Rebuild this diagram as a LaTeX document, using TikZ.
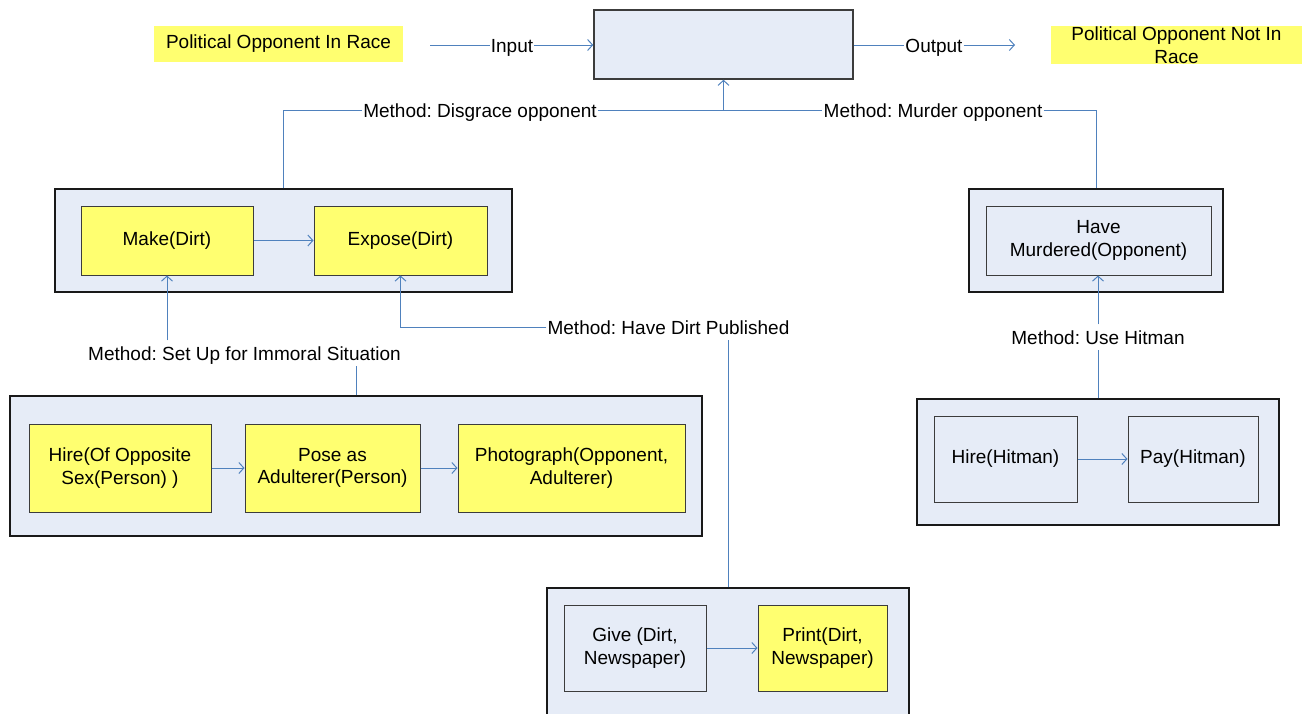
\documentclass[tikz,border=0pt]{standalone}
\usepackage{fontspec}
\setmainfont{Liberation Sans}
\frenchspacing
\usetikzlibrary{arrows.meta}
\definecolor{boxfill}{RGB}{230,236,247}
\definecolor{hl}{RGB}{255,255,112}
\definecolor{wire}{RGB}{79,129,189}
\definecolor{edge}{RGB}{60,60,60}
\begin{document}
\begin{tikzpicture}[x=1pt,y=-1pt,
  every node/.style={font=\fontsize{19}{22.5}\selectfont\frenchspacing, align=center, text=black},
  sized/.style 2 args={minimum width=#1, minimum height=#2, inner sep=0pt},
  group/.style={draw=black!90, line width=1.1pt, fill=boxfill},
  mainbox/.style={draw=edge, line width=1.5pt, fill=boxfill},
  act/.style={draw=edge, line width=1pt, fill=hl},
  plain/.style={draw=edge, line width=1pt, fill=boxfill},
  tag/.style={fill=hl, inner sep=0pt},
  lbl/.style={fill=white, inner xsep=1pt, inner ysep=5.5pt, text height=14pt, text depth=0pt},
  wireline/.style={draw=wire, line width=1pt},
  wirearrow/.style={wireline, -{Straight Barb[length=5pt,width=11pt,line width=1pt]}},
]
\useasboundingbox (0,0) rectangle (1302,713);
\clip (0,0) rectangle (1302,713);

% top row: state before, process, state after
\node[tag, sized={249pt}{36pt}] (before) at (278.5,44) {Political Opponent In Race};
\node[mainbox, sized={259pt}{69pt}] (main) at (723.5,44.5) {};
\node[tag, sized={251pt}{38pt}] (after) at (1176.5,45) {Political Opponent Not In\\Race};
\coordinate (inStart) at (430,45);
\coordinate (outEnd) at (1015,45);
\node[lbl] (lblIn) at (512,45) {Input};
\node[lbl] (lblOut) at (934,45) {Output};
\draw[wireline] (inStart) -- (lblIn.west);
\draw[wirearrow] (lblIn.east) -- (lblIn.east -| main.west);
\draw[wireline] (main.east |- lblOut.west) -- (lblOut.west);
\draw[wirearrow] (lblOut.east) -- (outEnd);

% method: disgrace opponent
\node[group, sized={457pt}{103pt}] (disgrace) at (283.5,240.5) {};
\node[act, sized={172pt}{69pt}] (make) at (167,240.5) {Make(Dirt)};
\node[act, sized={173pt}{69pt}] (expose) at (400.5,240.5) {Expose(Dirt)};
\draw[wirearrow] (make) -- (expose);

% method: murder opponent
\node[group, sized={254pt}{103pt}] (murder) at (1096,240.5) {};
\node[plain, sized={225pt}{69pt}] (murdered) at (1098.5,240.5) {Have\\Murdered(Opponent)};

% joining both methods to the process
\node[lbl] (lblDis) at (480,110) {Method: Disgrace opponent};
\node[lbl] (lblMur) at (933,110) {Method: Murder opponent};
\coordinate (join) at (main.south |- lblDis);
\draw[wireline] (disgrace.north) |- (lblDis.west);
\draw[wireline] (lblDis.east) -- (lblMur.west);
\draw[wireline] (lblMur.east) -| (murder.north);
\draw[wirearrow] (join) -- (main.south);

% method: set up for immoral situation
\node[group, sized={692pt}{140pt}] (immoral) at (356,466) {};
\node[act, sized={182pt}{88pt}] (hire) at (120,468) {Hire(Of Opposite\\Sex(Person) )};
\node[act, sized={175pt}{88pt}] (pose) at (332.5,468) {Pose as\\Adulterer(Person)};
\node[act, sized={227pt}{88pt}] (photo) at (571.5,468) {Photograph(Opponent,\\Adulterer)};
\draw[wirearrow] (hire) -- (pose);
\draw[wirearrow] (pose) -- (photo);
\node[lbl] (lblSetUp) at (244.5,353) {Method: Set Up for Immoral Situation};
\draw[wireline] (immoral.north) -- (immoral.north |- lblSetUp.south);
\draw[wirearrow] (make.south |- lblSetUp.north) -- (make.south);

% method: have dirt published
\node[group, sized={362pt}{152pt}] (news) at (728,664) {};
\node[plain, sized={142pt}{86pt}] (give) at (635,648) {Give (Dirt,\\Newspaper)};
\node[act, sized={129pt}{86pt}] (print) at (822.5,648) {Print(Dirt,\\Newspaper)};
\draw[wirearrow] (give) -- (print);
\node[lbl] (lblPub) at (668.5,327) {Method: Have Dirt Published};
\draw[wireline] (news.north) -- (news.north |- lblPub.south);
\draw[wirearrow] (lblPub.west) -| (expose.south);

% method: use hitman
\node[group, sized={362pt}{126pt}] (hitman) at (1098,462) {};
\node[plain, sized={143pt}{86pt}] (hirehit) at (1005.5,459) {Hire(Hitman)};
\node[plain, sized={130pt}{86pt}] (payhit) at (1193,459) {Pay(Hitman)};
\draw[wirearrow] (hirehit) -- (payhit);
\node[lbl] (lblHit) at (1098,337) {Method: Use Hitman};
\draw[wireline] (hitman.north) -- (lblHit.south);
\draw[wirearrow] (lblHit.north) -- (lblHit.north |- murdered.south);
\end{tikzpicture}
\end{document}
